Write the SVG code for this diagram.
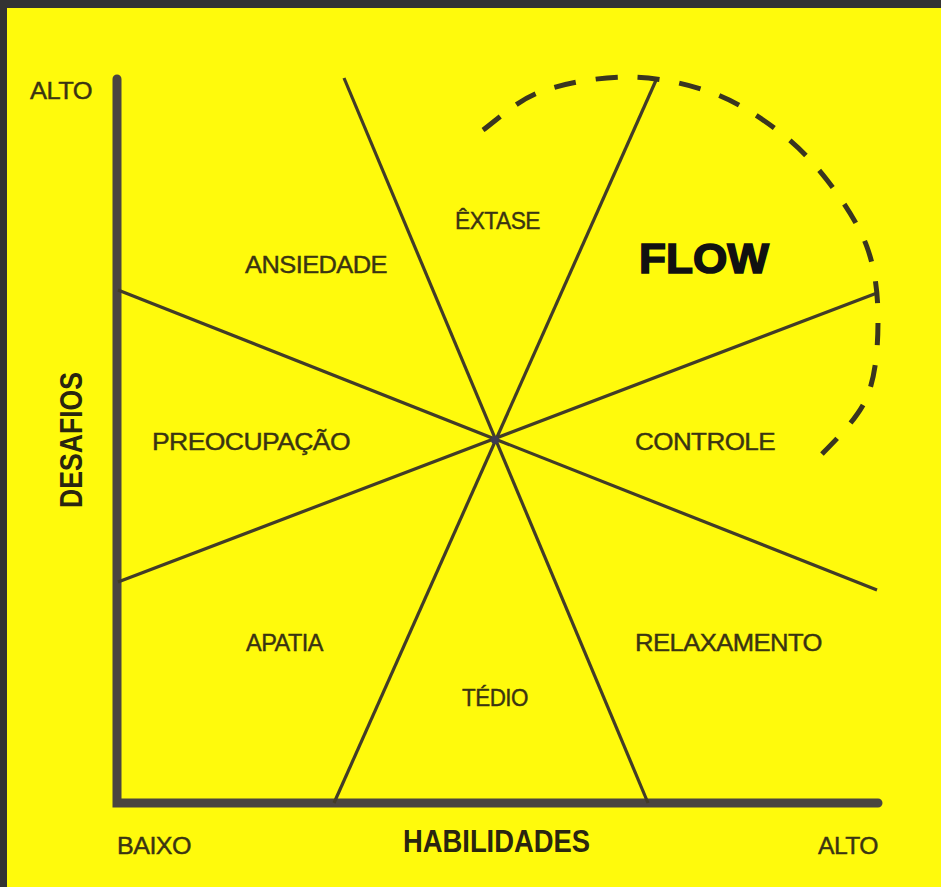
<svg xmlns="http://www.w3.org/2000/svg" width="941" height="887" viewBox="0 0 941 887">
<style>
.lbl{font-family:"Liberation Sans",Arial,sans-serif;font-size:23px;fill:#3a3412;stroke:#3a3412;stroke-width:0.4px;letter-spacing:-0.5px}
.bold{font-family:"Liberation Sans",Arial,sans-serif;font-weight:bold;fill:#2a2510}
.axis{stroke:#4a4540;stroke-width:9;stroke-linecap:round;fill:none}
.ray{stroke:#423c28;stroke-width:3.2;fill:none}
.arc{stroke:#3a3520;stroke-width:5;stroke-dasharray:22 20;fill:none;stroke-linecap:butt}
</style>
<rect x="0" y="0" width="941" height="887" fill="#333333"/>
<rect x="7" y="8" width="934" height="879" fill="#fffa0c"/>
<g id="connectors">
<polyline class="axis" points="117,79 117,803 878,803"/>
<line class="ray" x1="344" y1="78" x2="648" y2="803"/>
<line class="ray" x1="657" y1="78" x2="334" y2="803"/>
<line class="ray" x1="118" y1="290" x2="877" y2="590"/>
<line class="ray" x1="118" y1="582" x2="877" y2="293"/>
<circle cx="495" cy="440" r="4" fill="#3c3a50"/>
<path class="arc" d="M483,130 C492.5,123.7 516,100.8 540,92 C564,83.2 598.7,77 627,77 C655.3,77 685,83.2 710,92 C735,100.8 757.5,115.3 777,130 C796.5,144.7 812,160.5 827,180 C842,199.5 858.5,223.7 867,247 C875.5,270.3 878,295 878,320 C878,345 876.2,374.5 867,397 C857.8,419.5 830.3,445.3 818,458"/>
</g>
<g id="axis-labels">
<text class="lbl" x="30" y="99" textLength="62" lengthAdjust="spacingAndGlyphs">ALTO</text>
<text class="lbl" x="117" y="854" textLength="74" lengthAdjust="spacingAndGlyphs">BAIXO</text>
<text class="lbl" x="818" y="854" textLength="60" lengthAdjust="spacingAndGlyphs">ALTO</text>
<text class="bold" x="403" y="852" font-size="32" textLength="187" lengthAdjust="spacingAndGlyphs">HABILIDADES</text>
<text class="bold" font-size="32" transform="translate(82,508) rotate(-90)" textLength="136" lengthAdjust="spacingAndGlyphs">DESAFIOS</text>
</g>
<g id="ansiedade"><text class="lbl" x="245" y="273" textLength="142" lengthAdjust="spacingAndGlyphs">ANSIEDADE</text></g>
<g id="extase"><text class="lbl" x="455" y="229" textLength="85" lengthAdjust="spacingAndGlyphs">ÊXTASE</text></g>
<g id="flow"><text class="bold" x="639" y="273" font-size="43" style="fill:#111;stroke:#111;stroke-width:1.6px" textLength="130" lengthAdjust="spacingAndGlyphs">FLOW</text></g>
<g id="preocupacao"><text class="lbl" x="152" y="450" textLength="198" lengthAdjust="spacingAndGlyphs">PREOCUPAÇÃO</text></g>
<g id="controle"><text class="lbl" x="635" y="450" textLength="140" lengthAdjust="spacingAndGlyphs">CONTROLE</text></g>
<g id="apatia"><text class="lbl" x="246" y="651" textLength="77" lengthAdjust="spacingAndGlyphs">APATIA</text></g>
<g id="relaxamento"><text class="lbl" x="635" y="651" textLength="187" lengthAdjust="spacingAndGlyphs">RELAXAMENTO</text></g>
<g id="tedio"><text class="lbl" x="462" y="706" textLength="66" lengthAdjust="spacingAndGlyphs">TÉDIO</text></g>
</svg>
